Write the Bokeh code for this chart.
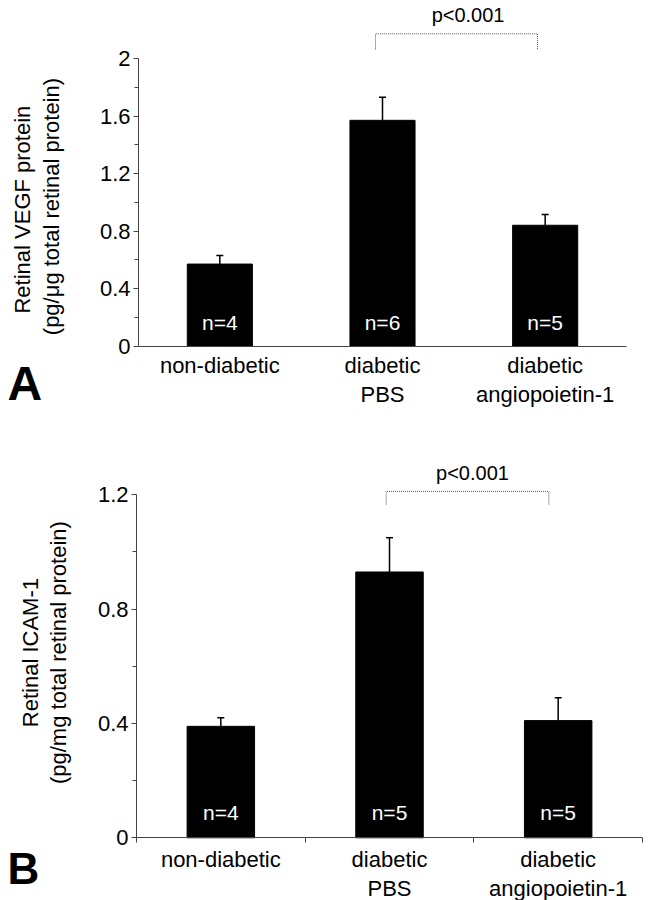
import math
from bokeh.plotting import figure
from bokeh.models import Range1d, FixedTicker, Whisker, TeeHead, ColumnDataSource
from bokeh.core.properties import value
from bokeh.layouts import column
from bokeh.embed import file_html
from bokeh.resources import INLINE

# ---------------- data ----------------
categories = ["non-diabetic", "diabetic\nPBS", "diabetic\nangiopoietin-1"]

vegf_mean = [0.57, 1.57, 0.84]
vegf_err = [0.06, 0.16, 0.075]
vegf_n = ["n=4", "n=6", "n=5"]
vegf_ticks = [0, 0.4, 0.8, 1.2, 1.6, 2.0]
vegf_tick_labels = ["0", "0.4", "0.8", "1.2", "1.6", "2"]
vegf_minor = [0.2, 0.6, 1.0, 1.4, 1.8]
vegf_ylabel = ["Retinal VEGF  protein", "(pg/\u03bcg total retinal protein)"]

icam_mean = [0.39, 0.93, 0.41]
icam_err = [0.03, 0.12, 0.08]
icam_n = ["n=4", "n=5", "n=5"]
icam_ticks = [0, 0.4, 0.8, 1.2]
icam_tick_labels = ["0", "0.4", "0.8", "1.2"]
icam_minor = [0.2, 0.6, 1.0]
icam_ylabel = ["Retinal ICAM-1", "(pg/mg total retinal protein)"]

p_text = "p<0.001"

FONT = "Liberation Sans"


def panel(means, errs, ns, ticks, tick_labels, minor, ylabel, letter,
          width, height, xr, yr, boundary_ticks, bracket, ptext_pos, n_y,
          letter_pos, letter_size, ylabel_x, ylabel_y, xlab_standoff):
    xs = [i + 0.5 for i in range(len(categories))]
    p = figure(width=width, height=height, x_range=Range1d(*xr), y_range=Range1d(*yr),
               output_backend="svg", toolbar_location=None,
               min_border_left=0, min_border_right=0, min_border_top=0,
               min_border_bottom=0)
    p.grid.visible = False
    p.outline_line_color = None
    p.background_fill_color = "white"

    src = ColumnDataSource(dict(x=xs, top=means, up=[m + e for m, e in zip(means, errs)],
                                n=ns))
    p.vbar(x="x", top="top", bottom=0, width=0.4, source=src,
           fill_color="black", line_color="black")
    w = Whisker(base="x", lower="top", upper="up", source=src, dimension="height",
                line_color="black", line_width=1.5,
                upper_head=TeeHead(size=7, line_color="black", line_width=1.5),
                lower_head=None)
    p.add_layout(w)
    p.text(x="x", y=n_y, text="n", source=src, text_color="white",
           text_font=value(FONT), text_font_size="21px",
           text_align="center", text_baseline="middle")

    # significance bracket
    bx0, bx1, by_top, by_bot = bracket
    p.line(x=[bx0, bx0, bx1, bx1], y=[by_bot, by_top, by_top, by_bot],
           line_color="#555555", line_width=1, line_dash="1 1")
    p.text(x=[ptext_pos[0]], y=[ptext_pos[1]], text=[p_text],
           text_font=value(FONT), text_font_size="20px", text_color="black",
           text_align="center", text_baseline="middle")

    # y axis title (two lines, rotated)
    p.text(x=ylabel_x, y=[ylabel_y, ylabel_y], text=ylabel, angle=math.pi / 2,
           text_font=value(FONT), text_font_size="22px", text_color="black",
           text_align="center", text_baseline="middle")

    # panel letter
    p.text(x=[letter_pos[0]], y=[letter_pos[1]], text=[letter],
           text_font=value(FONT), text_font_size=letter_size, text_font_style="bold",
           text_color="black", text_align="left", text_baseline="alphabetic")

    # y axis
    ya = p.yaxis[0]
    ya.fixed_location = 0
    ya.ticker = FixedTicker(ticks=ticks, minor_ticks=minor)
    ya.major_label_overrides = {t: l for t, l in zip(ticks, tick_labels)}
    ya.bounds = (ticks[0], ticks[-1])
    ya.axis_line_color = "#444444"
    ya.major_tick_line_color = "#444444"
    ya.minor_tick_line_color = "#444444"
    ya.major_tick_out = 5
    ya.major_tick_in = 0
    ya.minor_tick_out = 4
    ya.minor_tick_in = 0
    ya.major_label_standoff = 3
    ya.major_label_text_font = FONT
    ya.major_label_text_font_size = "22px"
    ya.major_label_text_color = "black"

    # x axis
    xa = p.xaxis[0]
    xa.fixed_location = 0
    xa.bounds = (0, len(categories))
    xa.ticker = FixedTicker(ticks=xs, minor_ticks=boundary_ticks)
    xa.major_label_overrides = {x: c for x, c in zip(xs, categories)}
    xa.axis_line_color = "#444444"
    xa.major_tick_line_color = None
    xa.major_tick_out = 0
    xa.major_tick_in = 0
    xa.minor_tick_line_color = "#444444"
    xa.minor_tick_out = 5 if boundary_ticks else 0
    xa.minor_tick_in = 0
    xa.major_label_standoff = xlab_standoff
    xa.major_label_text_font = FONT
    xa.major_label_text_font_size = "22px"
    xa.major_label_text_color = "black"
    xa.major_label_text_line_height = 1.15
    return p


pa = panel(vegf_mean, vegf_err, vegf_n, vegf_ticks, vegf_tick_labels, vegf_minor,
           vegf_ylabel, "A", width=648, height=448,
           xr=(-0.8483, 3.1352), yr=(-0.7130, 2.4035),
           boundary_ticks=[],
           bracket=(1.457, 2.453, 2.172, 2.063), ptext_pos=(2.026, 2.30),
           n_y=0.163, letter_pos=(-0.805, -0.261), letter_size="48px",
           ylabel_x=[-0.710, -0.535], ylabel_y=0.970, xlab_standoff=7)

pb = panel(icam_mean, icam_err, icam_n, icam_ticks, icam_tick_labels, icam_minor,
           icam_ylabel, "B", width=648, height=452,
           xr=(-0.8063, 3.0355), yr=(-0.2194, 1.3621),
           boundary_ticks=[0, 1, 2, 3],
           bracket=(1.480, 2.445, 1.212, 1.166), ptext_pos=(1.992, 1.276),
           n_y=0.087, letter_pos=(-0.765, -0.108), letter_size="44px",
           ylabel_x=[-0.628, -0.4625], ylabel_y=0.648, xlab_standoff=4)

layout = column(pa, pb, spacing=0)
open("out.html", "w").write(file_html(layout, INLINE))
